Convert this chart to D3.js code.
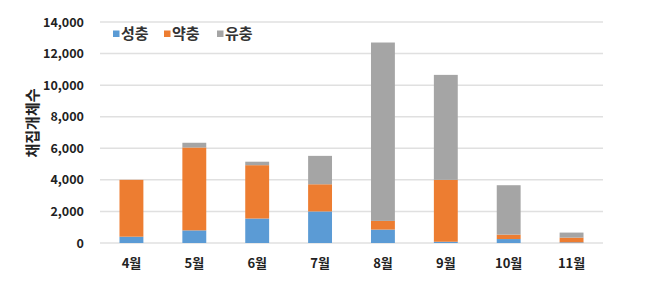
<!DOCTYPE html>
<html>
<head>
<meta charset="utf-8">
<script src="https://cdn.jsdelivr.net/npm/d3@7"></script>
<style>
  body { margin: 0; background: #fff; }
  svg { display: block; font-family: "Noto Sans CJK KR", "Noto Sans", sans-serif; }
</style>
</head>
<body>
<svg width="645" height="291"></svg>
<script>
var months = ['4월', '5월', '6월', '7월', '8월', '9월', '10월', '11월'],
    seriesNames = ['성충', '약충', '유충'],
    adult = [400, 800, 1550, 2000, 850, 80, 250, 40],
    nymph = [3600, 5250, 3380, 1720, 550, 3920, 280, 300],
    larva = [0, 300, 220, 1800, 11300, 6650, 3130, 320],
    yTicks = [0, 2000, 4000, 6000, 8000, 10000, 12000, 14000],
    colors = ['#5b9bd5', '#ed7d31', '#a5a5a5'];

var svg = d3.select('svg'),
    plotLeft = 100,
    plotRight = 603,
    plotTop = 22,
    plotBottom = 243;

var rows = months.map(function (m, i) {
    return { month: m, '성충': adult[i], '약충': nymph[i], '유충': larva[i] };
});

var x = d3.scaleBand().domain(months).range([plotLeft, plotRight]).paddingInner(0.62).paddingOuter(0.31);
var y = d3.scaleLinear().domain([0, 14000]).range([plotBottom, plotTop]);

// gridlines
svg.append('g')
    .selectAll('line')
    .data(yTicks)
    .enter().append('line')
    .attr('x1', plotLeft)
    .attr('x2', plotRight)
    .attr('y1', function (d) { return y(d); })
    .attr('y2', function (d) { return y(d); })
    .attr('stroke', '#e0e0e0')
    .attr('stroke-width', 1.5);

// y axis labels
var yAxis = d3.axisLeft(y).tickValues(yTicks).tickSize(0).tickPadding(16)
    .tickFormat(d3.format(','));
svg.append('g')
    .attr('transform', 'translate(' + plotLeft + ',0)')
    .call(yAxis)
    .call(function (g) { g.select('.domain').remove(); })
    .selectAll('text')
    .attr('font-family', '"Noto Sans CJK KR", sans-serif')
    .attr('font-size', 12.5)
    .attr('font-weight', 'bold')
    .attr('fill', '#222');

// x axis labels
var xAxis = d3.axisBottom(x).tickSize(0).tickPadding(16);
svg.append('g')
    .attr('transform', 'translate(0,' + plotBottom + ')')
    .call(xAxis)
    .call(function (g) { g.select('.domain').remove(); })
    .selectAll('text')
    .attr('font-family', '"Noto Sans CJK KR", sans-serif')
    .attr('font-size', 13)
    .attr('font-weight', 'bold')
    .attr('fill', '#222');

// stacked bars
var stacked = d3.stack().keys(seriesNames)(rows);
svg.append('g')
    .selectAll('g')
    .data(stacked)
    .enter().append('g')
    .attr('fill', function (d, i) { return colors[i]; })
    .selectAll('rect')
    .data(function (d) { return d; })
    .enter().append('rect')
    .attr('x', function (d) { return x(d.data.month); })
    .attr('width', x.bandwidth())
    .attr('y', function (d) { return y(d[1]); })
    .attr('height', function (d) { return y(d[0]) - y(d[1]); });

// y axis title
svg.append('text')
    .attr('transform', 'translate(38,123) rotate(-90)')
    .attr('text-anchor', 'middle')
    .attr('font-size', 15)
    .attr('font-weight', 'bold')
    .attr('fill', '#222')
    .text('채집개체수');

// legend
var legendX = [113, 164, 217];
var legend = svg.append('g')
    .selectAll('g')
    .data(seriesNames)
    .enter().append('g')
    .attr('transform', function (d, i) { return 'translate(' + legendX[i] + ',34)'; });
legend.append('rect')
    .attr('x', 0).attr('y', -3.5)
    .attr('width', 6.5).attr('height', 6.5)
    .attr('fill', function (d, i) { return colors[i]; });
legend.append('text')
    .attr('x', 8)
    .attr('y', 0)
    .attr('dy', '0.35em')
    .attr('font-size', 15)
    .attr('font-weight', 'bold')
    .attr('fill', '#333')
    .text(function (d) { return d; });
</script>
</body>
</html>
